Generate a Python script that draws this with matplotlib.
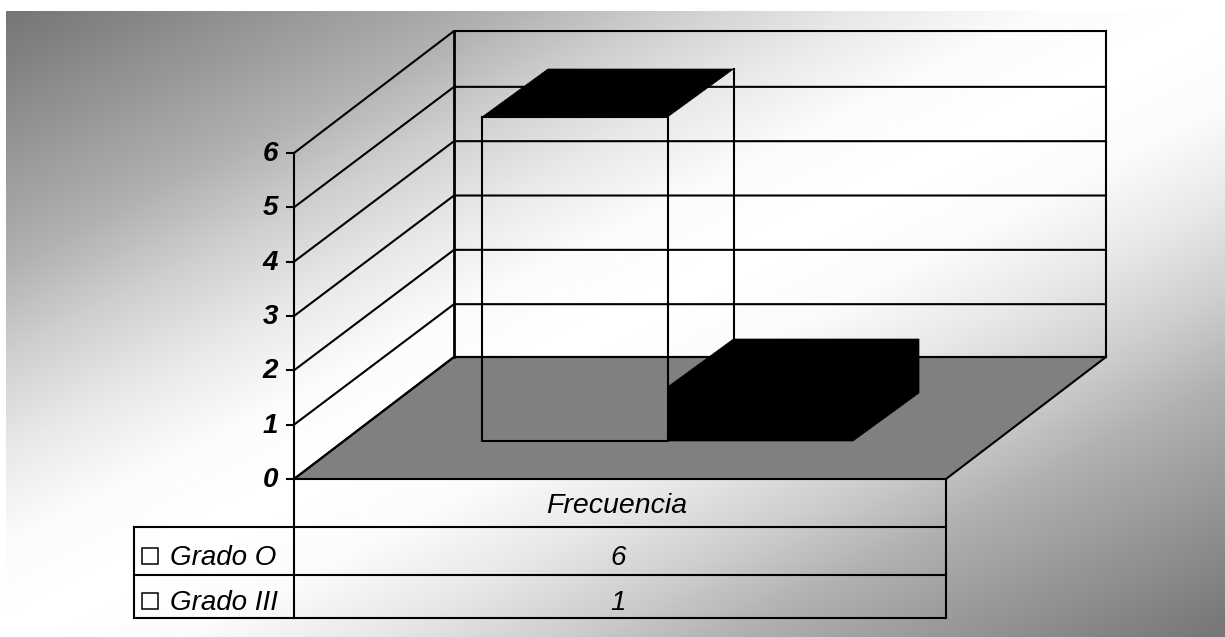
import numpy as np
import matplotlib
matplotlib.use("Agg")
import matplotlib.pyplot as plt

categories = ["Frecuencia"]
series_names = ["Grado O", "Grado III"]
series_values = [6, 1]
y_ticks = [0, 1, 2, 3, 4, 5, 6]

plt.rcParams['font.family'] = ['Liberation Sans', 'DejaVu Sans']

W, H = 1225, 637
fig = plt.figure(figsize=(W/100, H/100), dpi=100)
ax = fig.add_axes([0, 0, 1, 1])
ax.set_xlim(0, W)
ax.set_ylim(H, 0)
ax.axis("off")

# Diagonal background gradient: dark corners, wide white band in the middle
x0, y0 = 6, 11
xx, yy = np.meshgrid(np.linspace(0, 1, 600), np.linspace(0, 1, 300))
dist = np.abs(xx + yy - 1)
shade = np.interp(dist, [0, 0.15, 0.3, 0.45, 0.6, 1],
                  [1, 0.985, 0.91, 0.81, 0.69, 0.46])
ax.imshow(shade, extent=(x0, W, H, y0), cmap="gray", vmin=0, vmax=1,
          aspect="auto", zorder=0, interpolation="bilinear")
ax.set_xlim(0, W)
ax.set_ylim(H, 0)

# Value axis scale in pixels, and depth offset of the 3D box
floor_y = 479
unit = 54.33
left, right = 294, 946
dx, dy = 160, -122


def py(v):
    return floor_y - v * unit


LW = 1.5
line = dict(color="k", lw=LW, zorder=3, solid_capstyle="projecting")

# Floor
ax.fill([left, right, right + dx, left + dx],
        [floor_y, floor_y, floor_y + dy, floor_y + dy],
        color="#808080", lw=0, zorder=1)
ax.plot([left, right, right + dx, left + dx, left],
        [floor_y, floor_y, floor_y + dy, floor_y + dy, floor_y], **line)

# Walls and gridlines
for v in y_ticks:
    back_y = py(v) + dy + (1.5 if 0 < v < 6 else 0)
    ax.plot([left - 7, left], [py(v), py(v)], **line)
    ax.plot([left, left + dx, right + dx], [py(v), back_y, back_y], **line)
    ax.text(left - 16, py(v) + 1, str(v), ha="right", va="center", fontsize=20,
            style="italic", weight="bold", zorder=4)
ax.plot([left, left], [py(max(y_ticks)), 618], **line)
ax.plot([left + dx, left + dx], [py(max(y_ticks)) + dy, floor_y + dy], color="k", lw=2, zorder=3)
ax.plot([right + dx, right + dx], [py(max(y_ticks)) + dy, floor_y + dy], **line)

# Bars: first is only outlined with black top, second is solid black
bar_y = 441
bar_w = 185.5
bar_dx, bar_dy = 66, -48
bar_x = 482
for i, val in enumerate(series_values):
    xa = bar_x + i * bar_w
    xb = xa + bar_w
    top = bar_y - val * 54
    if i == 0:
        ax.fill([xa, xb, xb + bar_dx, xa + bar_dx], [top, top, top + bar_dy, top + bar_dy],
                color="k", lw=0.5, zorder=4)
        ax.plot([xa, xa, xb, xb, xa], [top, bar_y, bar_y, top, top], zorder=4,
                color="k", lw=LW)
        ax.plot([xb + bar_dx, xb + bar_dx], [top + bar_dy, bar_y + bar_dy], zorder=3,
                color="k", lw=LW)
    else:
        ax.fill([xa, xa + bar_dx, xb + bar_dx, xb + bar_dx, xb, xa],
                [top, top + bar_dy, top + bar_dy, bar_y + bar_dy, bar_y, bar_y],
                color="k", lw=0.5, zorder=5)

# Data table
row_y = [479, 527, 575, 618]
legend_x = 134
for y in row_y[1:]:
    ax.plot([legend_x, right], [y, y], **line)
ax.plot([legend_x, legend_x], [row_y[1], row_y[3]], **line)
ax.plot([right, right], [row_y[0], row_y[3]], **line)

center = (left + right) / 2
ax.text(center - 3, 506, categories[0], ha="center", va="center", fontsize=20.5,
        style="italic", zorder=4)
for i, name in enumerate(series_names):
    ymid = (row_y[i + 1] + row_y[i + 2]) / 2 + 5
    ax.add_patch(plt.Rectangle((142, ymid - 8.5), 16, 16, fc="none", ec="k", lw=1.1, zorder=4))
    ax.text(170, ymid + 2, name, ha="left", va="center", fontsize=20, style="italic", zorder=4)
    ax.text(center - 2, ymid + 2, str(series_values[i]), ha="center", va="center",
            fontsize=20, style="italic", zorder=4)

fig.savefig("out.png", dpi=100, facecolor="white")
plt.close(fig)
